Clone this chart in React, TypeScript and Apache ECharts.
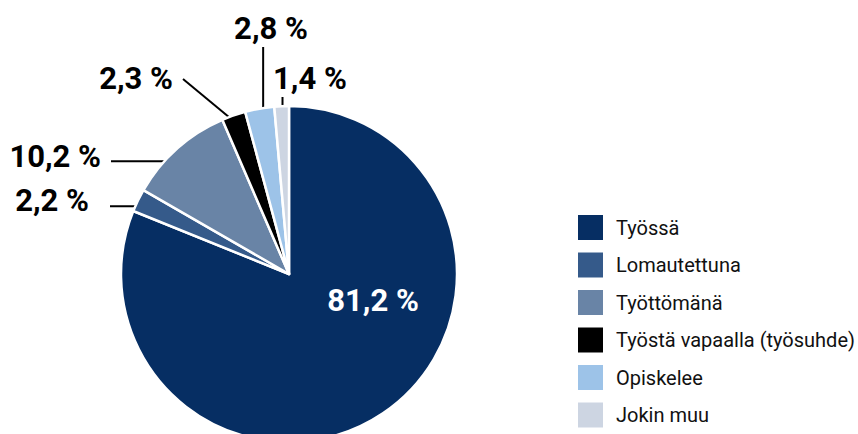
import React, { useEffect, useRef } from "react";
import * as echarts from "echarts";

const categories = ["Työssä", "Lomautettuna", "Työttömänä", "Työstä vapaalla (työsuhde)", "Opiskelee", "Jokin muu"];
const values = [81.2, 2.2, 10.2, 2.3, 2.8, 1.4];
const colors = ["#062e63", "#355a8a", "#6984a6", "#000000", "#9dc3e8", "#cdd5e2"];

// label placement (layout only)
const labelPos: { x: number; y: number; align: string }[] = [
  { x: 373, y: 300, align: "center" },
  { x: 89, y: 200, align: "right" },
  { x: 101, y: 156, align: "right" },
  { x: 173, y: 78, align: "right" },
  { x: 271, y: 28, align: "center" },
  { x: 273, y: 78, align: "left" },
];
// leader line: start point near the text, anchor radius fraction inside the slice
const lineStart: { mode: string; x: number; y: number; r: number }[] = [
  { mode: "none", x: 0, y: 0, r: 0 },
  { mode: "h", x: 110, y: 0, r: 0.92 },
  { mode: "h", x: 111, y: 0, r: 0.9 },
  { mode: "d", x: 183, y: 79, r: 0.95 },
  { mode: "v", x: 0, y: 47, r: 0.88 },
  { mode: "v", x: 0, y: 97, r: 0.88 },
];

const CX = 289;
const CY = 274;
const R = 168;
const FONT = "Roboto, 'Liberation Sans', sans-serif";

function fmt(v: number) {
  return v.toFixed(1).replace(".", ",") + " %";
}

export default function App() {
  const ref = useRef<HTMLDivElement>(null);
  useEffect(() => {
    document.body.style.margin = "0";
    const chart = echarts.init(ref.current!, null, { renderer: "svg" });
    const total = values.reduce((a, b) => a + b, 0);
    const cum: number[] = [];
    let acc = 0;
    values.forEach((v) => {
      cum.push(acc + v / 2);
      acc += v;
    });
    const anchor = (i: number) => {
      const theta = ((90 - (360 * cum[i]) / total) * Math.PI) / 180;
      const r = R * lineStart[i].r;
      return [CX + r * Math.cos(theta), CY - r * Math.sin(theta)];
    };
    chart.setOption({
      animation: false,
      legend: {
        orient: "vertical",
        left: 576,
        top: 213,
        padding: 0,
        icon: "rect",
        itemWidth: 27,
        itemHeight: 27,
        itemGap: 8.5,
        selectedMode: false,
        textStyle: { fontFamily: FONT, fontSize: 20, color: "#111", padding: [0, 0, 0, 7] },
        data: categories,
      },
      series: [
        {
          type: "pie",
          center: [CX, CY],
          radius: R,
          startAngle: 90,
          clockwise: true,
          avoidLabelOverlap: false,
          itemStyle: { borderColor: "#fff", borderWidth: 2.5 },
          label: {
            show: true,
            position: "outside",
            formatter: (p: any) => fmt(p.value),
            fontFamily: FONT,
            fontWeight: "bold",
            fontSize: 31,
            color: "#000",
          },
          labelLine: { show: true, lineStyle: { color: "#000", width: 2 }, length: 10, length2: 10 },
          labelLayout: (p: any) => {
            const i = p.dataIndex;
            const lp = labelPos[i];
            const out: any = { x: lp.x, y: lp.y, align: lp.align, verticalAlign: "middle" };
            const ls = lineStart[i];
            if (ls.mode !== "none") {
              const a = anchor(i);
              let s: number[];
              if (ls.mode === "h") s = [ls.x, a[1]];
              else if (ls.mode === "v") s = [a[0], ls.y];
              else s = [ls.x, ls.y];
              out.labelLinePoints = [s, s, a];
            }
            return out;
          },
          data: values.map((v, i) => ({
            name: categories[i],
            value: v,
            itemStyle: { color: colors[i] },
            label: i === 0 ? { color: "#fff" } : undefined,
            labelLine: i === 0 ? { show: false } : undefined,
          })),
        },
      ],
    });
    return () => chart.dispose();
  }, []);
  return <div ref={ref} style={{ width: 858, height: 434 }} />;
}
